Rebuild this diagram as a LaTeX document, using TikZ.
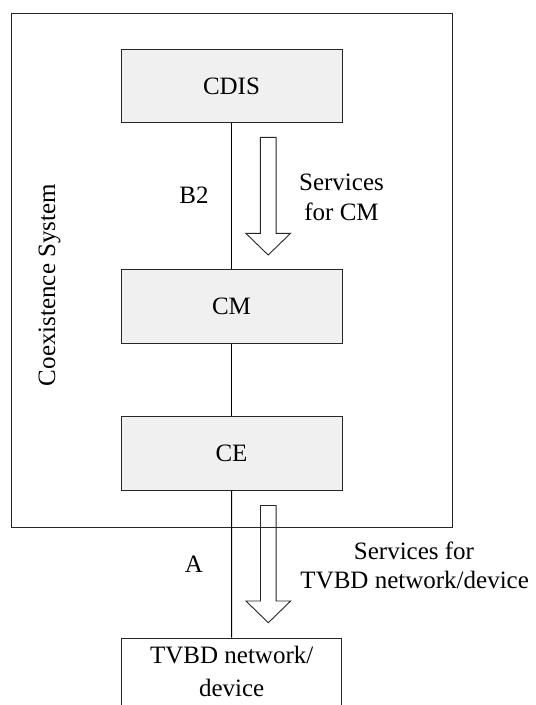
\documentclass[tikz,border=0pt]{standalone}
\usepackage{fontspec}
\setmainfont{Liberation Serif}
\newcommand{\hollowdown}[3]{%
  \draw[hollow] (#1-7.85,#2) -- (#1+7.85,#2) -- (#1+7.85,#3-21.7) -- (#1+22.35,#3-21.7)
    -- (#1,#3) -- (#1-22.35,#3-21.7) -- (#1-7.85,#3-21.7) -- cycle;}
\begin{document}
\begin{tikzpicture}[x=1pt,y=-1pt,line width=1pt,
  every node/.style={font=\fontsize{25}{30}\selectfont},
  blk/.style={draw=black!85,fill=black!6,minimum width=221pt,minimum height=73.4pt,inner sep=0pt},
  lbl/.style={anchor=base,inner sep=0pt},
  hollow/.style={draw=black!85,line width=0.9pt,line join=miter},
  conn/.style={draw=black,line width=1pt}]
\useasboundingbox (0,0) rectangle (536,705);
\node[draw=black!85,minimum width=441pt,minimum height=514.3pt,anchor=north west,inner sep=0pt] (sys) at (11,12.7) {};
\node[blk] (cdis) at (231.5,86) {CDIS};
\node[blk] (cm) at (231.5,306.6) {CM};
\node[blk] (ce) at (231.5,453.3) {CE};
\begin{scope}
\clip (0,0) rectangle (536,705);
\node[draw=black!85,minimum width=220pt,minimum height=100pt,anchor=north,inner sep=0pt] (tvbd) at (231.7,637.7) {};
\end{scope}
\draw[conn] (cdis.south) -- (cm.north);
\draw[conn] (cm.south) -- (ce.north);
\draw[conn] (ce.south) -- (tvbd.north);
\hollowdown{268.2}{137.3}{255}
\hollowdown{268.3}{505.5}{622.7}
\node[lbl] (b2) at (194,203) {B2};
\node[lbl] (scm1) at (341.5,190) {Services};
\node[lbl] (scm2) at (341.5,220) {for CM};
\node[lbl] (a) at (194,572) {A};
\node[lbl] (st1) at (414,559) {Services for};
\node[lbl] (st2) at (414.7,588) {TVBD network/device};
\node[lbl] (tv1) at (231.7,663.3) {TVBD network/};
\node[lbl] (tv2) at (231.7,696.5) {device};
\node[lbl,rotate=90] (cs) at (55,285) {Coexistence System};
\end{tikzpicture}
\end{document}
